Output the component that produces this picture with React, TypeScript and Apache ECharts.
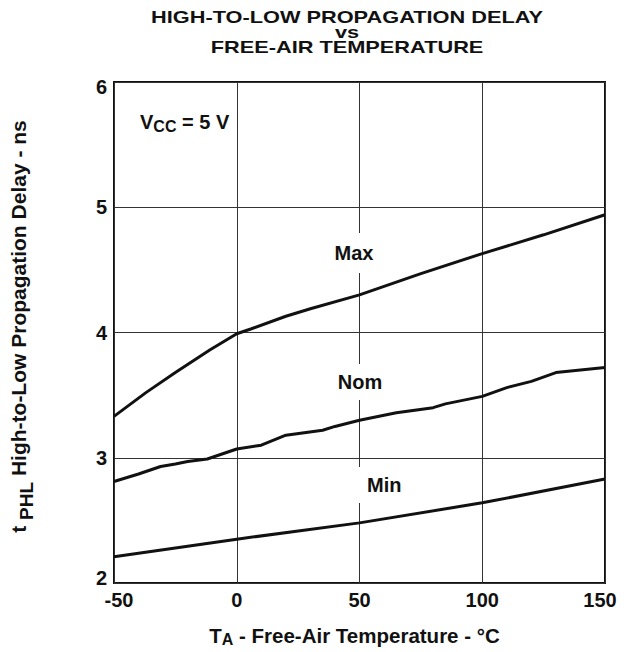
import React, { useEffect, useRef } from "react";
import * as echarts from "echarts";

const titleLines = ["HIGH-TO-LOW PROPAGATION DELAY", "vs", "FREE-AIR TEMPERATURE"];
const xTicks = [-50, 0, 50, 100, 150];
const yTicks = [2, 3, 4, 5, 6];

const maxTemps = [-50, -37, -25, -11, 0, 6, 20, 30, 50, 75, 100, 125, 150];
const maxDelay = [3.33, 3.52, 3.68, 3.86, 3.99, 4.03, 4.13, 4.19, 4.3, 4.47, 4.63, 4.78, 4.94];

const nomTemps = [-50, -40, -31, -25, -20, -12, 0, 10, 20, 35, 40, 50, 65, 80, 85, 100, 110, 120, 130, 140, 150];
const nomDelay = [2.81, 2.87, 2.93, 2.95, 2.97, 2.99, 3.07, 3.1, 3.18, 3.22, 3.25, 3.3, 3.36, 3.4, 3.43, 3.49, 3.56, 3.61, 3.68, 3.7, 3.72];

const minTemps = [-50, 0, 50, 100, 150];
const minDelay = [2.21, 2.35, 2.48, 2.64, 2.83];

const FONT = "'Liberation Sans', Arial, Helvetica, sans-serif";

function zip(xs: number[], ys: number[]) {
  return xs.map((x, i) => [x, ys[i]]);
}

export default function App() {
  const ref = useRef<HTMLDivElement>(null);
  useEffect(() => {
    if (!ref.current) return;
    const chart = echarts.init(ref.current, null, { renderer: "svg" });
    const lineStyle = { color: "#111", width: 3 };
    const base = { fontSize: 20, fontWeight: "bold", fontFamily: FONT, color: "#111" };
    const labelStyle = (text: string, x: number, y: number, pad: number[], align = "center") => ({
      type: "text",
      z: 100,
      x,
      y,
      style: {
        text,
        fontSize: 20,
        fontWeight: "bold",
        fontFamily: FONT,
        fill: "#111",
        align,
        verticalAlign: "middle",
        backgroundColor: "#fff",
        padding: pad,
      },
    });
    chart.setOption({
      animation: false,
      backgroundColor: "#fff",
      grid: {
        left: 107,
        right: 27,
        top: 82,
        bottom: 65,
        show: true,
        borderColor: "#111",
        borderWidth: 2,
        backgroundColor: "transparent",
      },
      xAxis: {
        type: "value",
        min: xTicks[0],
        max: xTicks[xTicks.length - 1],
        interval: 50,
        name: "T{s|A} - Free-Air Temperature - °C",
        nameLocation: "middle",
        nameGap: 40,
        nameTextStyle: {
          ...base,
          fontSize: 20.5,
          padding: [0, 10, 0, 0],
          rich: { s: { ...base, fontSize: 16, padding: [8, 0, 0, 0] } },
        },
        axisLine: { show: false },
        axisTick: { show: false },
        axisLabel: {
          ...base,
          margin: 7,
          formatter: (v: number) =>
            v === xTicks[0] ? `{l|${v}}` : v === xTicks[xTicks.length - 1] ? `{r|${v}}` : `${v}`,
          rich: {
            l: { ...base, padding: [0, 0, 0, 10] },
            r: { ...base, padding: [0, 10, 0, 0] },
          },
        },
        splitLine: { show: true, lineStyle: { color: "#333", width: 1 } },
      },
      yAxis: {
        type: "value",
        min: yTicks[0],
        max: yTicks[yTicks.length - 1],
        interval: 1,
        name: "t {s|PHL} High-to-Low Propagation Delay - ns",
        nameLocation: "middle",
        nameRotate: 90,
        nameGap: 78,
        nameTextStyle: {
          ...base,
          fontSize: 21,
          padding: [0, 0, 0, 12],
          rich: { s: { ...base, fontSize: 19, padding: [16, 0, 0, 0] } },
        },
        axisLine: { show: false },
        axisTick: { show: false },
        axisLabel: {
          ...base,
          margin: 7,
          formatter: (v: number) =>
            v === yTicks[0] ? `{lo|${v}}` : v === yTicks[yTicks.length - 1] ? `{hi|${v}}` : `${v}`,
          rich: {
            lo: { ...base, padding: [0, 0, 10, 0] },
            hi: { ...base, padding: [10, 0, 0, 0] },
          },
        },
        splitLine: { show: true, lineStyle: { color: "#333", width: 1 } },
      },
      series: [
        { name: "Max", type: "line", data: zip(maxTemps, maxDelay), symbol: "none", lineStyle, z: 3 },
        { name: "Nom", type: "line", data: zip(nomTemps, nomDelay), symbol: "none", lineStyle, z: 3 },
        { name: "Min", type: "line", data: zip(minTemps, minDelay), symbol: "none", lineStyle, z: 3 },
      ],
      graphic: [
        {
          type: "text",
          z: 100,
          x: 347,
          y: 9,
          scaleX: 1.28,
          style: {
            text: titleLines.join("\n"),
            fontSize: 17,
            fontWeight: "bold",
            fontFamily: FONT,
            fill: "#111",
            align: "center",
            verticalAlign: "top",
            lineHeight: 15,
          },
        },
        {
          type: "text",
          z: 100,
          x: 136,
          y: 122,
          style: {
            text: "V{s|CC} = 5 V",
            fontSize: 20,
            fontWeight: "bold",
            fontFamily: FONT,
            fill: "#111",
            align: "left",
            verticalAlign: "middle",
            backgroundColor: "#fff",
            padding: [6, 5, 6, 4],
            rich: {
              s: { fontSize: 16, fontWeight: "bold", fontFamily: FONT, fill: "#111", padding: [8, 0, 0, 0] },
            },
          },
        },
        labelStyle("Max", 354, 253, [10, 3, 10, 3]),
        labelStyle("Nom", 360, 382, [8, 3, 8, 3]),
        labelStyle("Min", 355, 485, [8, 3, 8, 12], "left"),
      ],
    });
    return () => chart.dispose();
  }, []);
  return <div ref={ref} style={{ position: "absolute", left: 0, top: 0, width: 632, height: 652 }} />;
}
